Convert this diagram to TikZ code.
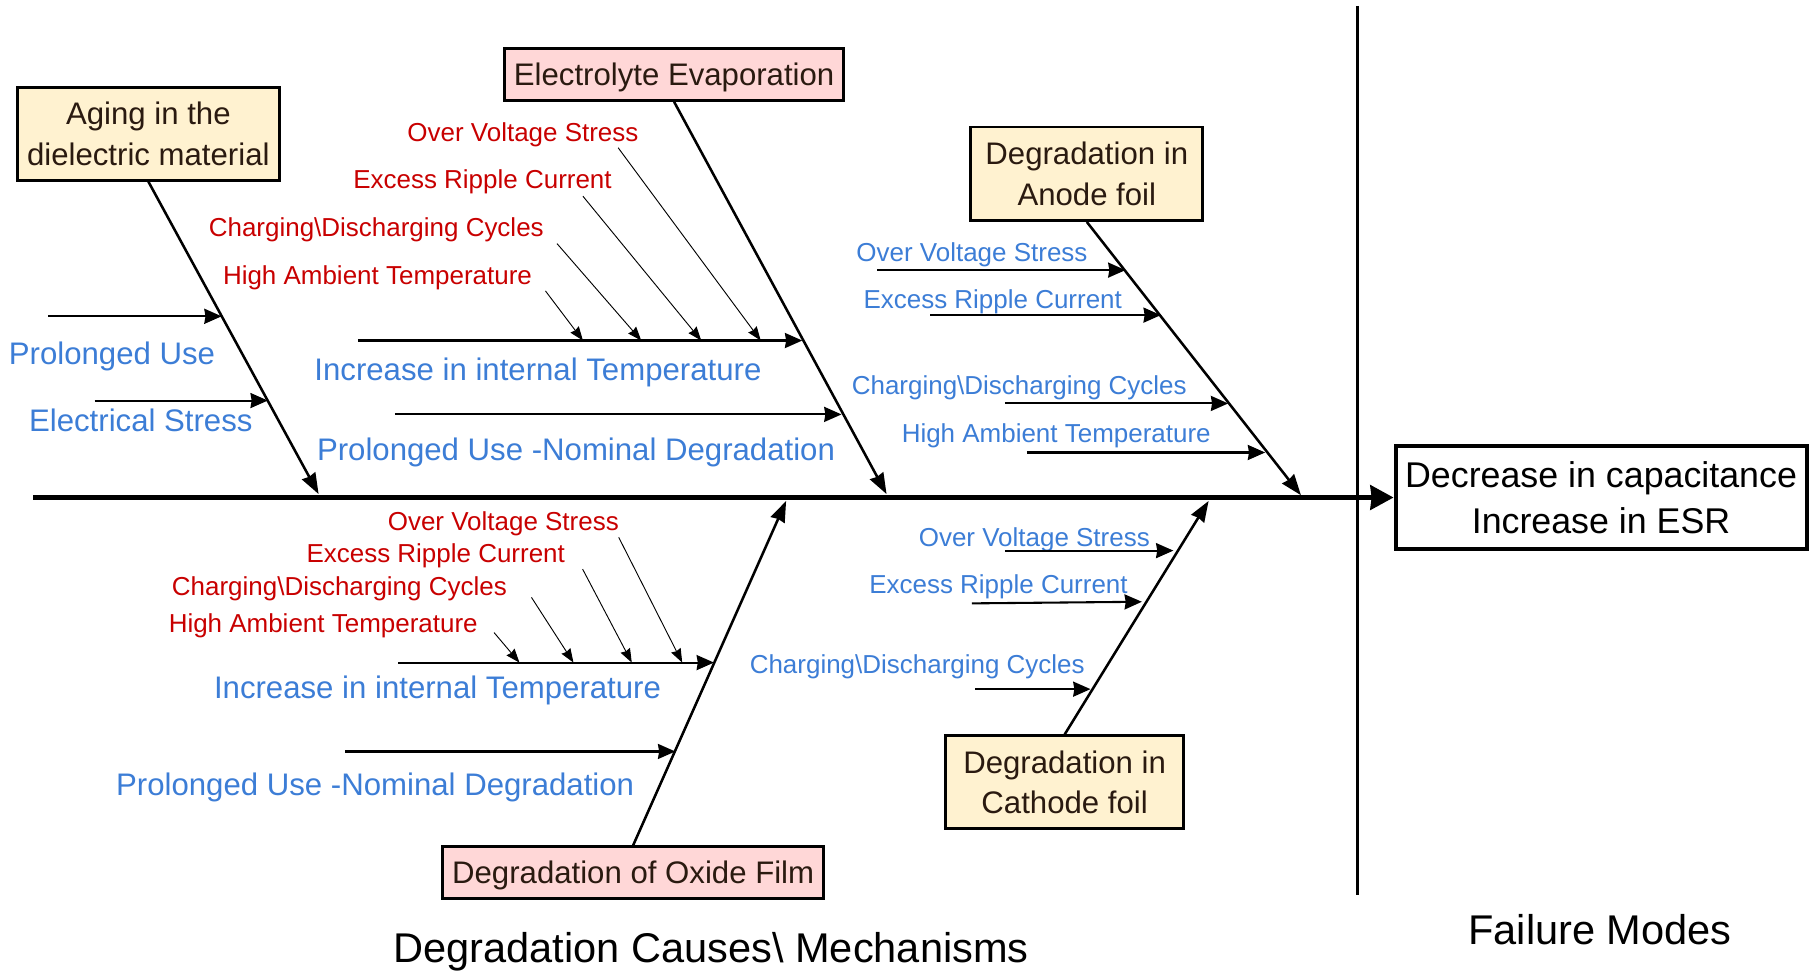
\documentclass[tikz,border=0pt]{standalone}
\usepackage{fontspec}
\setmainfont{Liberation Sans}
\usetikzlibrary{arrows.meta,positioning}
\definecolor{FishBlue}{HTML}{3C7DD6}
\definecolor{FishRed}{HTML}{C80000}
\definecolor{FishYellow}{HTML}{FFF2D0}
\definecolor{FishPink}{HTML}{FFD7D7}
\definecolor{FishInk}{HTML}{2A1A10}
\tikzset{cause/.style={draw=black,line width=2.5pt,align=center,inner sep=0pt,text depth=0pt,
    font=\fontsize{27}{35}\selectfont,text=FishInk},
  bone/.style={-{Stealth[length=18pt,width=13pt,inset=1pt]},line width=2.2pt}}
\begin{document}
\begin{tikzpicture}[x=1pt,y=-1pt,
  sub/.style={-{Stealth[length=15pt,width=13pt,inset=1pt]},line width=1.8pt},
  feed/.style={-{Stealth[length=12pt,width=9pt,inset=1pt]},line width=0.8pt},
  big/.style={font=\fontsize{27}{32}\selectfont,text=FishBlue,text depth=0pt},
  small/.style={font=\fontsize{22.5}{27}\selectfont,text depth=0pt},
  title/.style={font=\fontsize{36}{42}\selectfont,text depth=0pt}]
\useasboundingbox (0,0) rectangle (1568,842);
% Spine and effect
\node[draw=black,line width=3.5pt,align=center,inner sep=0pt,minimum width=356pt,minimum height=90pt,
  font=\fontsize{31}{40}\selectfont] (effect) at (1387,431) {Decrease in capacitance\\Increase in ESR};
\coordinate (spineL) at (29,431);
\draw[-{Stealth[length=20pt,width=21pt,inset=1pt]},line width=4.5pt] (spineL)--(effect.west);
\coordinate (divT) at (1176,5); \coordinate (divB) at (1176,775);
\draw[line width=3pt] (divT)--(divB);
\node[title] (modes) at (1386,805) {Failure Modes};
\node[title] (causes) at (616,821) {Degradation Causes\textbackslash{} Mechanisms};
% Cause boxes
\node[cause,fill=FishYellow,minimum width=227pt,minimum height=80pt] (aging) at (128.5,116) {Aging in the\\dielectric material};
\node[cause,fill=FishPink,minimum width=294pt,minimum height=45pt] (electro) at (584,64.5) {Electrolyte Evaporation};
\node[cause,fill=FishYellow,minimum width=201pt,minimum height=81pt] (anode) at (941.5,150.5) {Degradation in\\Anode foil};
\node[cause,fill=FishYellow,minimum width=206pt,minimum height=80pt] (cathode) at (922.3,677.5) {Degradation in\\Cathode foil};
\node[cause,fill=FishPink,minimum width=330pt,minimum height=45pt] (oxide) at (548.5,756) {Degradation of Oxide Film};
% Bones
\coordinate (agingT) at (276,428); \coordinate (electroT) at (768,428);
\coordinate (anodeT) at (1127,429); \coordinate (oxideT) at (681,434);
\coordinate (cathodeT) at (1047,434);
\draw[bone] (aging.south)--(agingT);
\draw[bone] (electro.south)--(electroT);
\draw[bone] (anode.south)--(anodeT);
\draw[bone] (oxide.north)--(oxideT);
\draw[bone] (cathode.north)--(cathodeT);
% Aging branches
\coordinate (puA) at (42,274); \coordinate (puB) at (192,274);
\coordinate (esA) at (82,347); \coordinate (esB) at (232,347);
\draw[sub] (puA)--(puB); \draw[sub] (esA)--(esB);
\node[big] (pu) at (97,306) {Prolonged Use};
\node[big] (es) at (122,364) {Electrical Stress};
% Electrolyte branches
\coordinate (itA) at (310,295); \coordinate (itB) at (695,295);
\coordinate (pnA) at (342,359); \coordinate (pnB) at (729,359);
\draw[sub] (itA)--(itB); \draw[sub] (pnA)--(pnB);
\node[big] (it) at (466,320) {Increase in internal Temperature};
\node[big] (pn) at (499,389) {Prolonged Use -Nominal Degradation};
\node[small,text=FishRed] (ovE) at (453,114) {Over Voltage Stress};
\node[small,text=FishRed] (erE) at (418,155) {Excess Ripple Current};
\node[small,text=FishRed] (cdE) at (326,197) {Charging\textbackslash Discharging Cycles};
\node[small,text=FishRed] (haE) at (327,238) {High Ambient Temperature};
\coordinate (ovEa) at (535.5,128); \coordinate (ovEb) at (659,295);
\coordinate (erEa) at (505,170); \coordinate (erEb) at (607.5,295);
\coordinate (cdEa) at (482.5,211); \coordinate (cdEb) at (555.5,295);
\coordinate (haEa) at (472.5,252); \coordinate (haEb) at (505,295);
\draw[feed] (ovEa)--(ovEb); \draw[feed] (erEa)--(erEb);
\draw[feed] (cdEa)--(cdEb); \draw[feed] (haEa)--(haEb);
% Anode branches
\node[small,text=FishBlue] (ovA) at (842,218) {Over Voltage Stress};
\node[small,text=FishBlue] (erA) at (860,259) {Excess Ripple Current};
\node[small,text=FishBlue] (cdA) at (883,334) {Charging\textbackslash Discharging Cycles};
\node[small,text=FishBlue] (haA) at (915,375) {High Ambient Temperature};
\coordinate (ovAa) at (760,234); \coordinate (ovAb) at (975,234);
\coordinate (erAa) at (806,273); \coordinate (erAb) at (1005.6,273);
\coordinate (cdAa) at (870.5,349.5); \coordinate (cdAb) at (1064,349.5);
\coordinate (haAa) at (889.5,392); \coordinate (haAb) at (1096,392);
\draw[sub] (ovAa)--(ovAb); \draw[sub] (erAa)--(erAb);
\draw[sub] (cdAa)--(cdAb); \draw[sub] (haAa)--(haAb);
% Oxide branches
\coordinate (itOa) at (345,574); \coordinate (itOb) at (618.5,574);
\coordinate (pnOa) at (299,651); \coordinate (pnOb) at (585,651);
\draw[sub] (itOa)--(itOb); \draw[sub] (pnOa)--(pnOb);
\node[big] (itO) at (379,595) {Increase in internal Temperature};
\node[big] (pnO) at (325,679) {Prolonged Use -Nominal Degradation};
\node[small,text=FishRed] (ovO) at (436,451) {Over Voltage Stress};
\node[small,text=FishRed] (erO) at (377.5,479) {Excess Ripple Current};
\node[small,text=FishRed] (cdO) at (294,508) {Charging\textbackslash Discharging Cycles};
\node[small,text=FishRed] (haO) at (280,540) {High Ambient Temperature};
\coordinate (ovOa) at (536,465.5); \coordinate (ovOb) at (591,574);
\coordinate (erOa) at (504.7,493); \coordinate (erOb) at (547.3,574);
\coordinate (cdOa) at (460.4,517.5); \coordinate (cdOb) at (496.8,574);
\coordinate (haOa) at (428,548); \coordinate (haOb) at (450,574);
\draw[feed] (ovOa)--(ovOb); \draw[feed] (erOa)--(erOb);
\draw[feed] (cdOa)--(cdOb); \draw[feed] (haOa)--(haOb);
% Cathode branches
\node[small,text=FishBlue] (ovC) at (896,465) {Over Voltage Stress};
\node[small,text=FishBlue] (erC) at (865,506) {Excess Ripple Current};
\node[small,text=FishBlue] (cdC) at (794.6,575) {Charging\textbackslash Discharging Cycles};
\coordinate (ovCa) at (870.6,477); \coordinate (ovCb) at (1016.5,477);
\coordinate (erCa) at (842,522.7); \coordinate (erCb) at (989.2,521.3);
\coordinate (cdCa) at (845,597); \coordinate (cdCb) at (944.7,597);
\draw[sub] (ovCa)--(ovCb); \draw[sub] (erCa)--(erCb); \draw[sub] (cdCa)--(cdCb);
\end{tikzpicture}
\end{document}
